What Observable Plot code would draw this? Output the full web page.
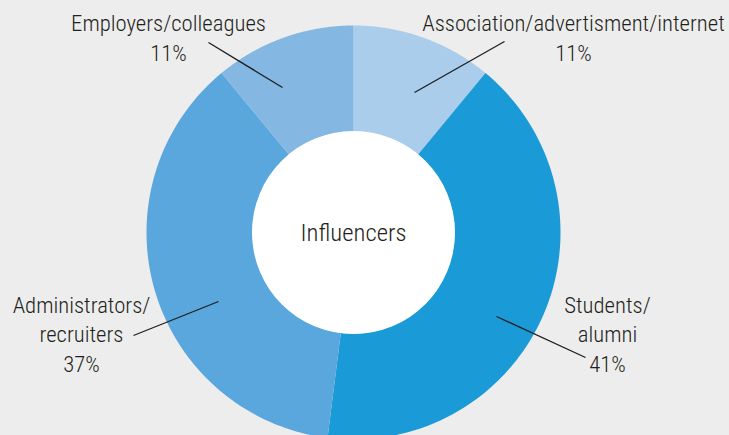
<!DOCTYPE html>
<html><head><meta charset="utf-8">
<script src="https://cdn.jsdelivr.net/npm/d3@7"></script>
<script src="https://cdn.jsdelivr.net/npm/@observablehq/plot@0.6"></script>
<style>
html,body{margin:0;padding:0;background:#ededed;}
#chart svg{display:block;}
</style></head><body><div id="chart"></div>
<script>
// ---- data ----
const categories = ["Association/advertisment/internet", "Students/alumni", "Administrators/recruiters", "Employers/colleagues"];
const labelLines = [["Association/advertisment/internet"], ["Students/", "alumni"], ["Administrators/", "recruiters"], ["Employers/colleagues"]];
const shares = [11, 41, 37, 11];
const colors = ["#aacdec", "#1a9ad6", "#5aa7dd", "#84b8e3"];
const centerLabel = "Influencers";

// ---- layout (pixel space) ----
const W = 729, H = 435;
const CX = 353, CY = 232, R = 207, R0 = 101;
const leaderPos = [[414, 92, 504, 41], [496, 316, 585, 357], [218, 301, 133, 335], [282, 87, 208, 42]];
const labelPos = [[573, 60], [607, 371], [81, 371], [168, 60]];
const FONT = "'Roboto Condensed', 'Liberation Sans Narrow', 'DejaVu Sans Condensed', sans-serif";

// ring slice outlines from the shares
const slicePts = [];
let cum = 0;
shares.forEach((s, i) => {
  const a0 = 2 * Math.PI * cum / 100, a1 = 2 * Math.PI * (cum + s) / 100;
  const n = 120;
  for (let k = 0; k <= n; k++) {
    const a = a0 + (a1 - a0) * k / n;
    slicePts.push({name: categories[i], x: CX + R * Math.sin(a), y: CY - R * Math.cos(a)});
  }
  for (let k = n; k >= 0; k--) {
    const a = a0 + (a1 - a0) * k / n;
    slicePts.push({name: categories[i], x: CX + R0 * Math.sin(a), y: CY - R0 * Math.cos(a)});
  }
  cum += s;
});

const labels = categories.map((c, i) => ({
  text: [...labelLines[i], shares[i] + "%"].join("\n"),
  x: labelPos[i][0], y: labelPos[i][1]
}));
const leaders = leaderPos.map(([x1, y1, x2, y2]) => ({x1, y1, x2, y2}));

const chart = Plot.plot({
  width: W, height: H, margin: 0,
  x: {domain: [0, W], axis: null},
  y: {domain: [H, 0], axis: null},
  color: {domain: categories, range: colors},
  style: {background: "#ededed", fontFamily: FONT, overflow: "visible"},
  marks: [
    Plot.line(slicePts, {x: "x", y: "y", z: "name", fill: "name", stroke: null}),
    Plot.dot([{x: CX, y: CY}], {x: "x", y: "y", r: R0 + 0.5, fill: "white", stroke: null}),
    Plot.link(leaders, {x1: "x1", y1: "y1", x2: "x2", y2: "y2", stroke: "#1e1e1e", strokeWidth: 1.3}),
    Plot.text(labels, {x: "x", y: "y", text: "text", fontSize: 22.7, fontWeight: 300, lineHeight: 1.28, lineAnchor: "bottom", textAnchor: "middle", fill: "#231f20"}),
    Plot.text([{x: CX, y: CY + 8, t: centerLabel}], {x: "x", y: "y", text: "t", fontSize: 24.7, fontWeight: 300, lineAnchor: "bottom", textAnchor: "middle", fill: "#231f20"})
  ]
});
document.getElementById("chart").appendChild(chart);
</script></body></html>
